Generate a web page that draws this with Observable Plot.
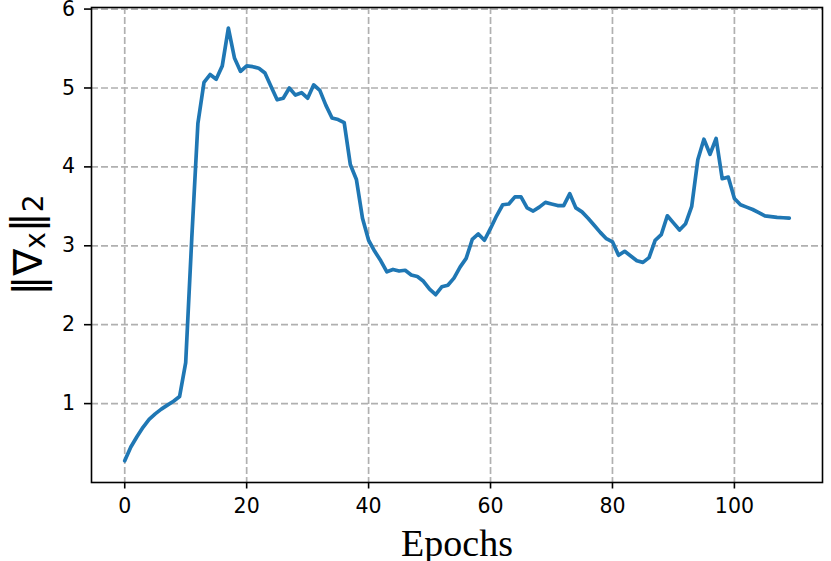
<!DOCTYPE html>
<html>
<head>
<meta charset="utf-8">
<script src="https://cdn.jsdelivr.net/npm/d3@7"></script>
<script src="https://cdn.jsdelivr.net/npm/@observablehq/plot@0.6"></script>
<style>
  html, body { margin: 0; padding: 0; background: #fff; }
  #chart svg { display: block; }
</style>
</head>
<body>
<div id="chart"></div>
<script>
const epochs = [
  0,1,2,3,4,5,6,7,8,9,10,11,12,13,14,15,16,17,18,19,
  20,21,22,23,24,25,26,27,28,29,30,31,32,33,34,35,36,37,38,39,
  40,41,42,43,44,45,46,47,48,49,50,51,52,53,54,55,56,57,58,59,
  60,61,62,63,64,65,66,67,68,69,70,71,72,73,74,75,76,77,78,79,
  80,81,82,83,84,85,86,87,88,89,90,91,92,93,94,95,96,97,98,99,
  100,101,102,103,104,105,106,107,108,109
];
const gradNorm = [
  0.275,0.45,0.58,0.70,0.80,0.87,0.93,0.98,1.03,1.09,
  1.52,3.10,4.55,5.07,5.17,5.11,5.28,5.76,5.38,5.21,
  5.28,5.27,5.25,5.19,5.02,4.85,4.87,5.00,4.91,4.94,
  4.87,5.04,4.97,4.78,4.62,4.60,4.56,4.03,3.84,3.35,
  3.07,2.93,2.81,2.67,2.70,2.68,2.69,2.63,2.61,2.55,
  2.45,2.38,2.48,2.50,2.59,2.73,2.84,3.08,3.15,3.07,
  3.22,3.38,3.52,3.53,3.62,3.62,3.48,3.44,3.49,3.55,
  3.53,3.51,3.51,3.66,3.48,3.43,3.35,3.26,3.17,3.09,
  3.05,2.88,2.93,2.87,2.81,2.79,2.85,3.07,3.14,3.38,
  3.29,3.20,3.28,3.50,4.09,4.35,4.16,4.36,3.85,3.87,
  3.60,3.52,3.49,3.46,3.42,3.38,3.37,3.36,3.355,3.35
];
const xTicks = [0, 20, 40, 60, 80, 100];
const yTicks = [1, 2, 3, 4, 5, 6];
const xLabel = "Epochs";
const yLabel = "‖∇x‖2";

const data = epochs.map((e, i) => ({epoch: e, value: gradNorm[i]}));

const gridStyle = {stroke: "#b0b0b0", strokeOpacity: 1, strokeWidth: 1.7, strokeDasharray: "7,3"};

const chart = Plot.plot({
  width: 831,
  height: 561,
  marginLeft: 91,
  marginRight: 9,
  marginTop: 7,
  marginBottom: 79,
  style: {fontFamily: "DejaVu Sans", background: "#fff", color: "#000"},
  x: {domain: [-5.45, 114.45]},
  y: {domain: [0.0, 6.02]},
  marks: [
    Plot.gridX(xTicks, gridStyle),
    Plot.gridY(yTicks, gridStyle),
    Plot.line(data, {x: "epoch", y: "value", stroke: "#1f77b4", strokeWidth: 3.7, strokeLinejoin: "round"}),
    Plot.frame({stroke: "#000", strokeWidth: 1.6}),
    Plot.axisX({ticks: xTicks, tickFormat: d => String(d), tickSize: 6.5, tickPadding: 9.5, fontSize: 20.5, label: null, strokeWidth: 1.6}),
    Plot.axisY({ticks: yTicks, tickFormat: d => String(d), tickSize: 7, tickPadding: 9.5, fontSize: 20.5, label: null, strokeWidth: 1.6}),
    Plot.text([xLabel], {text: d => d, frameAnchor: "bottom", textAnchor: "middle", lineAnchor: "bottom", dy: 73.5,
      fontFamily: "Liberation Serif", fontSize: 38, fill: "#000"}),
    Plot.text([yLabel], {text: d => d, frameAnchor: "left", textAnchor: "middle", rotate: -90, dx: -50, lineAnchor: "bottom",
      fontFamily: "DejaVu Sans", fontSize: 40, fill: "#000"})
  ]
});

document.getElementById("chart").appendChild(chart);

// Render the y label with mathematical subscripts
d3.select(chart).selectAll("text").filter(function() { return this.textContent === yLabel; })
  .each(function() {
    const t = d3.select(this);
    t.text(null);
    t.append("tspan").text("‖∇");
    t.append("tspan").attr("font-size", "70%").attr("dy", "0.12em").text("x");
    t.append("tspan").attr("dy", "-0.12em").text("‖");
    t.append("tspan").attr("font-size", "70%").attr("dy", "0.12em").text("2");
  });
</script>
</body>
</html>
